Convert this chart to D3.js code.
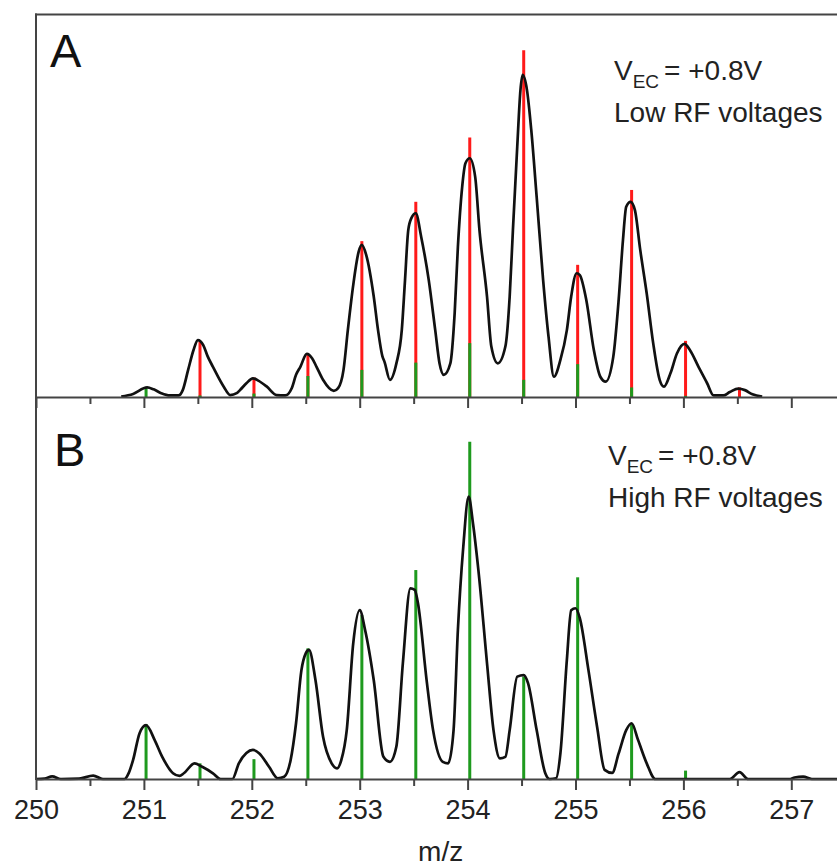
<!DOCTYPE html>
<html><head><meta charset="utf-8">
<script src="https://cdn.jsdelivr.net/npm/d3@7"></script>
<style>
html,body{margin:0;padding:0;background:#fff;overflow:hidden;}
svg{display:block;font-family:"Liberation Sans",Arial,sans-serif;}
</style></head>
<body><svg id="chart" width="837" height="867"></svg>
<script>
// ---- data ----
const majorTicks = [250, 251, 252, 253, 254, 255, 256, 257];
const minorTicks = [250.5, 251.5, 252.5, 253.5, 254.5, 255.5, 256.5, 257.5];
const stickMz = [251.02, 251.52, 252.02, 252.52, 253.02, 253.52, 254.02, 254.52, 255.02, 255.52, 256.02, 256.52];
const redA   = [0, 14.5, 5.1, 11.0, 40.8, 51.1, 67.9, 90.8, 34.6, 54.2, 14.7, 2.5];
const greenA = [2.4, 0.4, 0.9, 5.5, 7.1, 9.0, 14.1, 4.5, 8.6, 2.5, 0.3, 0];
const greenB = [14.4, 4.1, 5.2, 34.2, 42.9, 54.7, 88.3, 26.8, 52.8, 14.6, 2.2, 0];

const specAmz = [250.79,250.90,251.03,251.09,251.16,251.24,251.32,251.36,251.41,251.46,251.50,251.55,251.59,251.64,251.74,251.80,251.86,251.89,251.95,252.01,252.06,252.14,252.23,252.31,252.37,252.41,252.45,252.51,252.56,252.60,252.66,252.76,252.80,252.85,252.89,252.94,252.99,253.02,253.06,253.13,253.17,253.21,253.23,253.28,253.34,253.39,253.42,253.45,253.48,253.52,253.57,253.64,253.70,253.74,253.78,253.84,253.88,253.91,253.95,253.98,254.02,254.07,254.11,254.18,254.22,254.28,254.35,254.39,254.42,254.46,254.49,254.51,254.55,254.59,254.64,254.70,254.75,254.80,254.86,254.92,254.96,255.01,255.04,255.10,255.17,255.23,255.28,255.35,255.40,255.44,255.47,255.51,255.55,255.60,255.66,255.72,255.78,255.82,255.88,255.94,256.01,256.06,256.14,256.22,256.28,256.37,256.43,256.51,256.57,256.64,256.73];
const specAint = [0.1,0.8,2.5,2.0,1.0,0.4,0.4,1.8,7.1,12.3,14.9,13.6,10.7,7.9,2.7,0.5,1.0,1.8,3.6,4.9,4.3,2.7,0.5,0.4,2.3,5.8,7.9,11.3,10.1,7.9,4.5,1.6,2.3,7.1,17.5,29.3,38.0,39.8,37.2,26.3,17.5,10.7,9.2,4.5,8.8,17.5,30.6,43.7,46.9,48.1,41.9,30.6,17.5,8.8,5.8,8.8,21.9,39.3,55.1,61.2,62.5,57.7,43.7,26.3,13.2,8.8,13.2,26.3,43.7,65.5,80.4,84.3,80.4,69.9,52.4,30.6,15.8,5.3,9.7,17.5,26.3,32.4,31.9,25.4,12.3,5.3,4.0,10.5,25.4,41.1,49.8,51.1,49.0,38.5,27.1,14.1,4.5,2.7,6.2,11.4,13.9,12.3,7.9,3.6,0.4,0.4,1.3,2.2,1.8,0.7,0.1];

const specBmz = [250.00,250.08,250.15,250.23,250.40,250.53,250.62,250.82,250.86,250.90,250.96,251.02,251.10,251.17,251.27,251.33,251.37,251.47,251.54,251.64,251.71,251.82,251.88,251.95,252.01,252.07,252.16,252.24,252.30,252.36,252.41,252.46,252.50,252.53,252.59,252.66,252.74,252.79,252.83,252.88,252.94,253.00,253.05,253.13,253.22,253.28,253.34,253.40,253.47,253.51,253.54,253.62,253.68,253.77,253.82,253.87,253.91,253.96,254.01,254.05,254.10,254.18,254.24,254.30,254.35,254.39,254.46,254.52,254.56,254.64,254.72,254.76,254.82,254.86,254.92,254.96,255.00,255.04,255.12,255.20,255.27,255.34,255.40,255.47,255.52,255.58,255.66,255.74,256.43,256.52,256.60,256.99,257.03,257.11,257.19,257.5];
const specBint = [0,0.1,0.7,0,0.1,0.9,0,0,1.6,5.0,12.0,14.1,10.2,5.8,1.5,0.8,1.5,4.1,3.2,1.5,0,0,4.1,6.8,7.6,6.7,3.2,0.2,0.6,5.0,14.6,28.5,32.9,33.8,25.9,11.1,4.1,2.8,5.0,12.8,35.5,44.2,39.0,25.9,5.8,4.5,8.5,30.3,49.9,49.5,46.0,25.9,12.8,4.5,4.1,12.8,39.0,60.8,73.9,66.9,54.7,30.3,12.8,5.4,5.8,12.8,26.8,27.2,25.1,12.8,1.5,0,0.2,6.7,31.2,44.2,44.7,42.1,28.5,13.7,2.4,1.6,6.7,12.8,14.6,10.2,4.1,0,0,1.8,0,0,0.4,0.6,0,0];

const xLabel = "m/z";
const panelLabels = ["A", "B"];
const annotLine2 = ["Low RF voltages", "High RF voltages"];

// ---- layout ----
const svg = d3.select("#chart");
const plotLeft = 36, plotTop = 14.5, midY = 397, bottomY = 779;
const x = d3.scaleLinear().domain([250, 257.5]).range([plotLeft, plotLeft + 7.5 * 107.9]);
const yA = d3.scaleLinear().domain([0, 100]).range([midY, midY - 382]);
const yB = d3.scaleLinear().domain([0, 100]).range([bottomY, bottomY - 382]);
const axisColor = "#444";
const redCol = "#ff1a1a", greenCol = "#1e9a1e";

function drawSticks(y, vals, color) {
  svg.append("g").selectAll("line").data(stickMz.map((m, i) => [m, vals[i]]).filter(d => d[1] > 0))
    .join("line")
    .attr("x1", d => x(d[0])).attr("x2", d => x(d[0]))
    .attr("y1", y(0)).attr("y2", d => y(d[1]))
    .attr("stroke", color).attr("stroke-width", 3);
}
function drawSpec(y, mzs, ints) {
  const line = d3.line().x(d => x(d[0])).y(d => y(d[1])).curve(d3.curveMonotoneX);
  svg.append("path").datum(mzs.map((m, i) => [m, ints[i]]))
    .attr("d", line).attr("fill", "none").attr("stroke", "#111")
    .attr("stroke-width", 2.7).attr("stroke-linejoin", "round");
}

drawSticks(yA, redA, redCol);
drawSticks(yA, greenA, greenCol);
drawSticks(yB, greenB, greenCol);
drawSpec(yA, specAmz, specAint);
drawSpec(yB, specBmz, specBint);

// axes
function drawAxis(yPos, labels) {
  const gMin = svg.append("g").attr("transform", `translate(0,${yPos})`)
    .call(d3.axisBottom(x).tickValues(minorTicks).tickSize(7).tickSizeOuter(0).tickFormat(""));
  gMin.select(".domain").remove();
  const g = svg.append("g").attr("transform", `translate(0,${yPos})`)
    .call(d3.axisBottom(x).tickValues(majorTicks).tickSize(11).tickSizeOuter(0).tickFormat(labels ? d3.format("d") : ""));
  [g, gMin].forEach(gg => {
    gg.selectAll("line").attr("stroke", axisColor).attr("stroke-width", 2);
    gg.selectAll(".domain").attr("stroke", axisColor).attr("stroke-width", 2);
  });
  g.selectAll("text").attr("y", 40).attr("dy", 0).attr("fill", "#222")
    .style("font-size", "27px").style("font-family", "'Liberation Sans',Arial,sans-serif");
}
drawAxis(midY, false);
drawAxis(bottomY, true);

// frame: left axis and top border
svg.append("line").attr("x1", plotLeft).attr("x2", plotLeft).attr("y1", plotTop - 1).attr("y2", bottomY + 1)
  .attr("stroke", axisColor).attr("stroke-width", 2);
svg.append("line").attr("x1", plotLeft - 1).attr("x2", 837).attr("y1", plotTop).attr("y2", plotTop)
  .attr("stroke", axisColor).attr("stroke-width", 2);

// x label
svg.append("text").attr("x", x(253.75)).attr("y", 861).attr("text-anchor", "middle")
  .attr("fill", "#222").style("font-size", "28px").text(xLabel);

// panel labels
[[50, 67], [54, 466]].forEach((p, i) => {
  svg.append("text").attr("x", p[0]).attr("y", p[1]).attr("fill", "#111")
    .style("font-size", "47px").text(panelLabels[i]);
});

// annotations
[[614, 80], [608, 465]].forEach((p, i) => {
  const t = svg.append("text").attr("x", p[0]).attr("y", p[1]).attr("fill", "#222").style("font-size", "28px");
  t.append("tspan").text("V");
  t.append("tspan").attr("dy", 8).style("font-size", "19px").text("EC");
  t.append("tspan").attr("dy", -8).attr("dx", 5).text("= +0.8V");
  svg.append("text").attr("x", p[0]).attr("y", p[1] + 42).attr("fill", "#222")
    .style("font-size", "28px").text(annotLine2[i]);
});
</script>
</body></html>
